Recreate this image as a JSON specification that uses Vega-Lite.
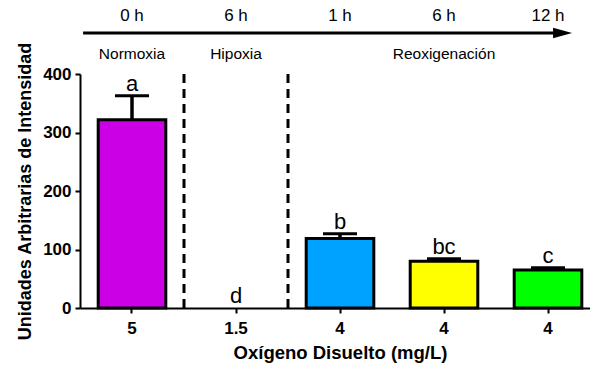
{
  "$schema": "https://vega.github.io/schema/vega-lite/v6.json",
  "width": 510,
  "height": 234,
  "autosize": "none",
  "padding": {"left": 80, "top": 74, "right": 0, "bottom": 60},
  "background": "white",
  "config": {
    "view": {"stroke": null},
    "font": "Liberation Sans",
    "axis": {
      "grid": false,
      "domainColor": "#000000",
      "domainWidth": 2,
      "tickColor": "#000000",
      "tickWidth": 2,
      "tickSize": 5,
      "labelColor": "#000000",
      "labelFont": "Liberation Sans",
      "labelFontWeight": "bold",
      "labelFontSize": 17,
      "titleColor": "#000000",
      "titleFont": "Liberation Sans",
      "titleFontWeight": "bold",
      "titleFontSize": 18
    }
  },
  "datasets": {
    "grupos": [
      {"grupo": "5", "media": 322, "sup": 363, "letra": "a", "tiempo": "0 h"},
      {"grupo": "1.5", "media": 0, "sup": 0, "letra": "d", "tiempo": "6 h"},
      {"grupo": "4 · 1 h", "media": 119, "sup": 127, "letra": "b", "tiempo": "1 h"},
      {"grupo": "4 · 6 h", "media": 80, "sup": 84, "letra": "bc", "tiempo": "6 h"},
      {"grupo": "4 · 12 h", "media": 65, "sup": 69, "letra": "c", "tiempo": "12 h"}
    ],
    "fases": [
      {"grupo": "5", "fase": "Normoxia"},
      {"grupo": "1.5", "fase": "Hipoxia"},
      {"grupo": "4 · 6 h", "fase": "Reoxigenación"}
    ],
    "divisiones": [{"pos": 1}, {"pos": 2}],
    "flecha": [{"inicio": 0.03, "fin": 4.56, "punta": 4.64}]
  },
  "layer": [
    {
      "encoding": {
        "x": {
          "field": "grupo",
          "type": "nominal",
          "scale": {
            "domain": ["5", "1.5", "4 · 1 h", "4 · 6 h", "4 · 12 h"],
            "range": [0, 520],
            "paddingInner": 0.35,
            "paddingOuter": 0.175
          },
          "axis": {
            "labelAngle": 0,
            "labelPadding": 7,
            "titlePadding": 7,
            "titleFontSize": 18.5,
            "labelExpr": "split(datum.label, ' ')[0]"
          },
          "title": "Oxígeno Disuelto (mg/L)"
        }
      },
      "layer": [
        {
          "data": {"name": "grupos"},
          "transform": [{"filter": "datum.media > 0"}],
          "mark": {"type": "bar", "stroke": "#000000", "strokeWidth": 3},
          "encoding": {
            "y": {
              "field": "media",
              "type": "quantitative",
              "scale": {"domain": [0, 400], "nice": false},
              "axis": {"values": [0, 100, 200, 300, 400], "labelPadding": 4, "titlePadding": 8},
              "title": "Unidades Arbitrarias de Intensidad"
            },
            "color": {
              "field": "grupo",
              "type": "nominal",
              "scale": {
                "domain": ["5", "1.5", "4 · 1 h", "4 · 6 h", "4 · 12 h"],
                "range": ["#cc00e5", "#ffffff", "#00a2ff", "#ffff00", "#00ff00"]
              },
              "legend": null
            }
          }
        },
        {
          "data": {"name": "grupos"},
          "transform": [{"filter": "datum.sup > datum.media"}],
          "mark": {"type": "rule", "color": "#000000", "strokeWidth": 3.5},
          "encoding": {
            "y": {"field": "media", "type": "quantitative"},
            "y2": {"field": "sup"}
          }
        },
        {
          "data": {"name": "grupos"},
          "transform": [{"filter": "datum.sup > datum.media"}],
          "mark": {"type": "tick", "color": "#000000", "size": 34, "thickness": 3, "orient": "horizontal", "opacity": 1},
          "encoding": {
            "y": {"field": "sup", "type": "quantitative"}
          }
        },
        {
          "data": {"name": "grupos"},
          "mark": {"type": "text", "fontSize": 22, "color": "#000000", "baseline": "alphabetic", "dy": -5, "font": "Liberation Sans"},
          "encoding": {
            "y": {"field": "sup", "type": "quantitative"},
            "text": {"field": "letra"}
          }
        },
        {
          "data": {"name": "grupos"},
          "mark": {"type": "text", "fontSize": 17, "color": "#000000", "baseline": "middle", "font": "Liberation Sans"},
          "encoding": {
            "y": {"datum": 499},
            "text": {"field": "tiempo"}
          }
        },
        {
          "data": {"name": "fases"},
          "mark": {"type": "text", "fontSize": 15.5, "color": "#000000", "baseline": "middle", "font": "Liberation Sans"},
          "encoding": {
            "y": {"datum": 434},
            "text": {"field": "fase"}
          }
        }
      ]
    },
    {
      "encoding": {
        "x": {
          "type": "quantitative",
          "scale": {"domain": [0, 5], "range": [0, 520], "nice": false, "zero": false},
          "axis": null
        }
      },
      "layer": [
        {
          "data": {"name": "divisiones"},
          "mark": {"type": "rule", "color": "#000000", "strokeWidth": 3, "strokeDash": [9, 6]},
          "encoding": {
            "x": {"field": "pos", "type": "quantitative"},
            "y": {"datum": 400},
            "y2": {"datum": 0}
          }
        },
        {
          "data": {"name": "flecha"},
          "mark": {"type": "rule", "color": "#000000", "strokeWidth": 3},
          "encoding": {
            "x": {"field": "inicio", "type": "quantitative"},
            "x2": {"field": "fin"},
            "y": {"datum": 470}
          }
        },
        {
          "data": {"name": "flecha"},
          "mark": {"type": "point", "shape": "M-1,-0.56L1,0L-1,0.56Z", "filled": true, "color": "#000000", "size": 361, "opacity": 1},
          "encoding": {
            "x": {"field": "punta", "type": "quantitative"},
            "y": {"datum": 470}
          }
        }
      ]
    }
  ],
  "resolve": {"scale": {"x": "independent"}}
}
